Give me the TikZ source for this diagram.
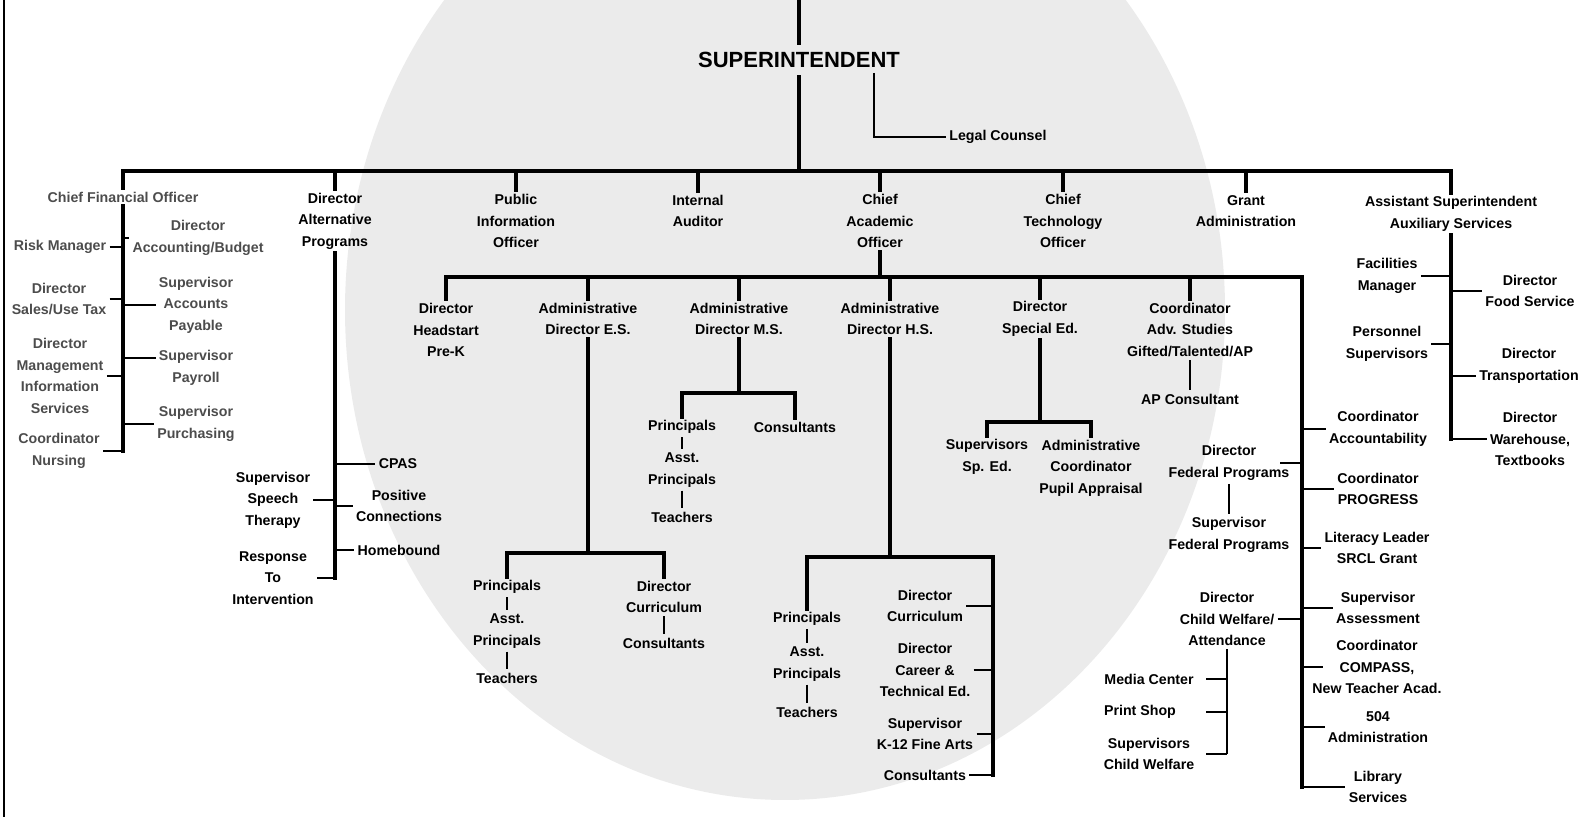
\documentclass[tikz,border=0pt]{standalone}
\usepackage{fontspec}
\setmainfont{Liberation Sans}
\usetikzlibrary{calc}

\tikzset{
  office/.style={align=center, inner sep=1.5pt, font=\fontsize{7.1}{10.75}\selectfont\bfseries},
  finance/.style={office, text=black!70},
  chief/.style={inner sep=4pt, font=\fontsize{11}{13}\selectfont\bfseries},
  trunk/.style={line width=1.6pt, line cap=rect},
  twig/.style={line width=1.2pt},
  thread/.style={line width=1.1pt},
  seal/.style={fill=black!8},
}

\begin{document}
\begin{tikzpicture}[x=0.5pt, y=-0.5pt]
\useasboundingbox (0,0) rectangle (1591,817);
% faint seal behind the chart
\begin{scope}
  \clip (0,0) rectangle (1591,817);
  \fill[seal] (785,310) ellipse[x radius=440, y radius=490];
\end{scope}
% left page rule
\coordinate (ruletop) at (4,0);
\coordinate (rulebot) at (4,817);
\draw[line width=0.6pt] (ruletop) -- (rulebot);

% superintendent and legal counsel
\node[chief] (sup) at (799,60) {SUPERINTENDENT};
\coordinate (supin) at (799,0);
\coordinate (mainbar) at (0,171);
\draw[trunk] (supin) -- (sup.north);
\draw[trunk] (sup.south) -- (sup.south |- mainbar);
\node[office, anchor=west] (legal) at (946,137) {Legal Counsel};
\coordinate (legalfork) at (874,73);
\draw[twig] (legalfork) |- (legal.west);

% first row
\node[finance] (cfo) at (123,197) {Chief Financial Officer};
\node[office] (alt) at (335,221) {Director\\Alternative\\Programs};
\node[office] (pio) at (516,221) {Public\\Information\\Officer};
\node[office] (ia) at (698,211) {Internal\\Auditor};
\node[office] (cao) at (880,221) {Chief\\Academic\\Officer};
\node[office] (cto) at (1063,221) {Chief\\Technology\\Officer};
\node[office] (grant) at (1246,211) {Grant\\Administration};
\node[office] (ass) at (1451,214) {Assistant Superintendent\\Auxiliary Services};
\draw[trunk] (cfo.north |- mainbar) -- (ass.north |- mainbar);
\foreach \n in {cfo,alt,pio,ia,cao,cto,grant,ass}
  \draw[trunk] (\n.north |- mainbar) -- (\n.north);

% finance branch
\node[finance] (risk) at (60,247) {Risk Manager};
\node[finance] (sales) at (59,299) {Director\\Sales/Use Tax};
\node[finance] (mis) at (60,376) {Director\\Management\\Information\\Services};
\node[finance] (nurse) at (59,451) {Coordinator\\Nursing};
\node[finance] (acct) at (198,238) {Director\\Accounting/Budget};
\node[finance] (payable) at (196,305) {Supervisor\\Accounts\\Payable};
\node[finance] (payroll) at (196,368) {Supervisor\\Payroll};
\node[finance] (purch) at (196,424) {Supervisor\\Purchasing};
\draw[trunk] (cfo.south) -- (cfo.south |- nurse.east);
\foreach \n in {risk,sales,mis,nurse}
  \draw[twig] (\n.east) -- (\n.east -| cfo.south);
\foreach \n in {acct,payable,purch}
  \draw[twig] (\n.west -| cfo.south) -- (\n.west);
\draw[twig] ([yshift=5pt]payroll.west -| cfo.south) -- ([yshift=5pt]payroll.west);

% alternative programs branch
\node[office] (cpas) at (398,464) {CPAS};
\node[office] (pos) at (399,506) {Positive\\Connections};
\node[office] (home) at (399,550) {Homebound};
\node[office] (speech) at (273,500) {Supervisor\\Speech\\Therapy};
\node[office] (rti) at (273,578) {Response\\To\\Intervention};
\draw[trunk] (alt.south) -- (alt.south |- rti.east);
\foreach \n in {cpas,pos,home}
  \draw[twig] (\n.west -| alt.south) -- (\n.west);
\foreach \n in {speech,rti}
  \draw[twig] (\n.east) -- (\n.east -| alt.south);

% academic branch
\coordinate (caobar) at (0,277);
\coordinate (rspine) at (1302,277);
\draw[trunk] (cao.south) -- (cao.south |- caobar);
\node[office] (hstart) at (446,330) {Director\\Headstart\\Pre-K};
\node[office] (es) at (588,319) {Administrative\\Director E.S.};
\node[office] (ms) at (739,319) {Administrative\\Director M.S.};
\node[office] (hs) at (890,319) {Administrative\\Director H.S.};
\node[office] (sped) at (1040,319) {Director\\Special Ed.};
\node[office] (adv) at (1190,330) {Coordinator\\Adv. Studies\\Gifted/Talented/AP};
\draw[trunk] (hstart.north |- caobar) -- (rspine);
\foreach \n in {hstart,es,ms,hs,sped,adv}
  \draw[trunk] (\n.north |- caobar) -- (\n.north);

% middle schools
\coordinate (msbar) at (0,393);
\node[office] (msp) at (682,427) {Principals};
\node[office] (msc) at (795,427) {Consultants};
\node[office] (msa) at (682,470) {Asst.\\Principals};
\node[office] (mst) at (682,517) {Teachers};
\draw[trunk] (ms.south) -- (ms.south |- msbar);
\draw[trunk] (msp.north |- msbar) -- (msc.north |- msbar);
\foreach \n in {msp,msc}
  \draw[trunk] (\n.north |- msbar) -- (\n.north);
\draw[thread] (msp) -- (msa);
\draw[thread] (msa) -- (mst);

% elementary schools
\coordinate (esbar) at (0,553);
\node[office] (esp) at (507,587) {Principals};
\node[office] (esa) at (507,631) {Asst.\\Principals};
\node[office] (est) at (507,678) {Teachers};
\node[office] (esd) at (664,597) {Director\\Curriculum};
\node[office] (esc) at (664,643) {Consultants};
\draw[trunk] (es.south) -- (es.south |- esbar);
\draw[trunk] (esp.north |- esbar) -- (esd.north |- esbar);
\foreach \n in {esp,esd}
  \draw[trunk] (\n.north |- esbar) -- (\n.north);
\draw[thread] (esp) -- (esa);
\draw[thread] (esa) -- (est);
\draw[thread] (esd) -- (esc);

% high schools
\coordinate (hsbar) at (0,557);
\coordinate (hsspine) at (993,557);
\node[office] (hsp) at (807,619) {Principals};
\node[office] (hsa) at (807,664) {Asst.\\Principals};
\node[office] (hst) at (807,712) {Teachers};
\node[office] (hscur) at (925,606) {Director\\Curriculum};
\node[office] (hscte) at (925,670) {Director\\Career \&\\Technical Ed.};
\node[office] (hsfa) at (925,734) {Supervisor\\K-12 Fine Arts};
\node[office] (hscon) at (925,775) {Consultants};
\draw[trunk] (hs.south) -- (hs.south |- hsbar);
\draw[trunk] (hsp.north |- hsbar) -- (hsspine) -- (hsspine |- hscon.east);
\draw[trunk] (hsp.north |- hsbar) -- (hsp.north);
\draw[thread] (hsp) -- (hsa);
\draw[thread] (hsa) -- (hst);
\foreach \n in {hscur,hscte,hsfa,hscon}
  \draw[twig] (\n.east) -- (\n.east -| hsspine);

% special education
\coordinate (spbar) at (0,422);
\node[office] (sps) at (987,457) {Supervisors\\Sp. Ed.};
\node[office] (spa) at (1091,468) {Administrative\\Coordinator\\Pupil Appraisal};
\draw[trunk] (sped.south) -- (sped.south |- spbar);
\draw[trunk] (sps.north |- spbar) -- (spa.north |- spbar);
\foreach \n in {sps,spa}
  \draw[trunk] (\n.north |- spbar) -- (\n.north);
\node[office] (apc) at (1190,399) {AP Consultant};
\draw[thread] (adv) -- (apc);

% right spine of the academic branch
\node[office] (acc) at (1378,429) {Coordinator\\Accountability};
\node[office] (prog) at (1378,489) {Coordinator\\PROGRESS};
\node[office] (lit) at (1377,548) {Literacy Leader\\SRCL Grant};
\node[office] (asmt) at (1378,608) {Supervisor\\Assessment};
\node[office] (comp) at (1377,667) {Coordinator\\COMPASS,\\New Teacher Acad.};
\node[office] (s504) at (1378,727) {504\\Administration};
\node[office] (lib) at (1378,787) {Library\\Services};
\draw[trunk] (rspine) -- (rspine |- lib.west);
\foreach \n in {acc,prog,lit,asmt,s504,lib}
  \draw[twig] (\n.west -| rspine) -- (\n.west);
\draw[twig] (rspine |- comp) -- ++(21,0);

\node[office] (fed) at (1229,463) {Director\\Federal Programs};
\node[office] (sfed) at (1229,535) {Supervisor\\Federal Programs};
\draw[twig] (rspine |- fed) -- ++(-22,0);
\draw[thread] (fed) -- (sfed);
\node[office] (cw) at (1227,619) {Director\\Child Welfare/\\Attendance};
\draw[twig] (cw.east) -- (cw.east -| rspine);
\node[office] (media) at (1149,679) {Media Center};
\node[office] (print) at (1140,712) {Print Shop};
\node[office] (scw) at (1149,754) {Supervisors\\Child Welfare};
\draw[twig] (cw.south) -- (cw.south |- scw.east);
\foreach \n in {media,print,scw}
  \draw[twig] (cw.south |- \n.east) -- ++(-21,0);

% auxiliary services
\node[office] (fac) at (1387,276) {Facilities\\Manager};
\node[office] (pers) at (1387,344) {Personnel\\Supervisors};
\node[office] (food) at (1530,291) {Director\\Food Service};
\node[office] (trans) at (1529,366) {Director\\Transportation};
\node[office] (ware) at (1530,439) {Director\\Warehouse,\\Textbooks};
\draw[trunk] (ass.south) -- (ass.south |- ware.west);
\foreach \n in {fac,pers}
  \draw[twig] (\n.east) -- (\n.east -| ass.south);
\foreach \n in {food,ware}
  \draw[twig] (\n.west -| ass.south) -- (\n.west);
\draw[twig] ([yshift=-5pt]trans.west -| ass.south) -- ([yshift=-5pt]trans.west);
\end{tikzpicture}
\end{document}
